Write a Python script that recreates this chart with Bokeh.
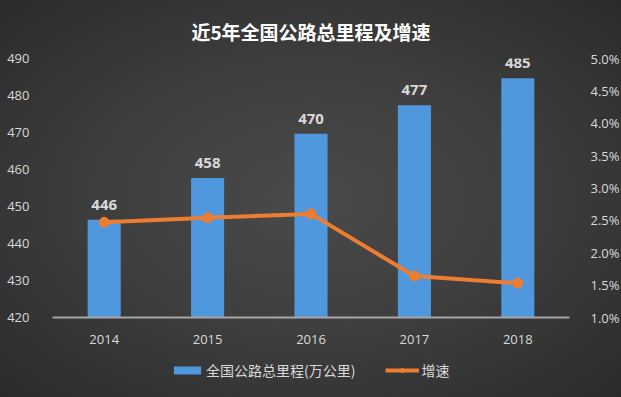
from bokeh.plotting import figure
from bokeh.layouts import column
from bokeh.models import (Range1d, LinearAxis, FixedTicker, NumeralTickFormatter,
                          Legend, LegendItem, ColumnDataSource, FactorRange)
from bokeh.core.properties import value
from bokeh.embed import file_html
from bokeh.resources import INLINE

years = ["2014", "2015", "2016", "2017", "2018"]
mileage = [446.39, 457.73, 469.63, 477.35, 484.65]
mileage_labels = ["446", "458", "470", "477", "485"]
growth = [0.0247, 0.0254, 0.0260, 0.0164, 0.0153]
left_ticks = [420, 430, 440, 450, 460, 470, 480, 490]
right_ticks = [0.010, 0.015, 0.020, 0.025, 0.030, 0.035, 0.040, 0.045, 0.050]
series_names = ["全国公路总里程(万公里)", "增速"]

src = ColumnDataSource(dict(x=years, m=mileage, lab=mileage_labels, g=growth))

FONT = "Noto Sans CJK SC"
LBL = "#d9d9d9"
BAR = "#4f98dd"
ORANGE = "#ed7d31"

p = figure(frame_width=517, frame_height=259, x_range=FactorRange(*years), y_range=Range1d(420, 490),
           output_backend="svg", toolbar_location=None,
           min_border_left=52, min_border_right=40, min_border_top=58, min_border_bottom=32)
p.border_fill_color = None
p.background_fill_color = None
p.outline_line_color = None
p.grid.visible = False

p.title.text = "近5年全国公路总里程及增速"
p.title.align = "center"
p.title.text_font = FONT
p.title.text_font_size = "19px"
p.title.text_font_style = "bold"
p.title.text_color = "#ffffff"
p.title.offset = 0
p.title.standoff = 28

p.extra_y_ranges = {"g": Range1d(0.01, 0.05)}

p.vbar(x="x", top="m", bottom=420, width=0.32, source=src, fill_color=BAR, line_color=None)
p.text(x="x", y="m", text="lab", source=src, y_offset=-10,
       text_align="center", text_baseline="bottom",
       text_font=value("Open Sans"), text_font_size="15px", text_font_style="bold",
       text_color=LBL)

p.line(x="x", y="g", source=src, y_range_name="g", line_color=ORANGE, line_width=4)
p.scatter(x="x", y="g", source=src, y_range_name="g", size=10,
          fill_color=ORANGE, line_color=ORANGE)

ya = p.yaxis[0]
ya.ticker = FixedTicker(ticks=left_ticks)
ya.axis_line_color = None
ya.major_tick_line_color = None
ya.minor_tick_line_color = None
ya.major_label_text_color = LBL
ya.major_label_text_font = "Open Sans"
ya.major_label_text_font_size = "13px"
ya.major_label_standoff = 17

ra = LinearAxis(y_range_name="g", ticker=FixedTicker(ticks=right_ticks),
                formatter=NumeralTickFormatter(format="0.0%"))
ra.axis_line_color = None
ra.major_tick_line_color = None
ra.minor_tick_line_color = None
ra.major_label_text_color = LBL
ra.major_label_text_font = "Open Sans"
ra.major_label_text_font_size = "13px"
ra.major_label_standoff = 15
p.add_layout(ra, "right")

xa = p.xaxis[0]
xa.axis_line_color = "#a6a6a6"
xa.axis_line_width = 2
xa.major_tick_line_color = None
xa.minor_tick_line_color = None
xa.major_label_text_color = LBL
xa.major_label_text_font = "Open Sans"
xa.major_label_text_font_size = "13px"
xa.major_label_standoff = 11

# legend strip (its renderers sit outside the visible range; only the legend shows)
p2 = figure(width=621, height=48, x_range=Range1d(0, 1), y_range=Range1d(0, 1),
            output_backend="svg", toolbar_location=None,
            x_axis_type=None, y_axis_type=None,
            min_border=0, min_border_left=0, min_border_right=0, min_border_top=0, min_border_bottom=0)
p2.border_fill_color = None
p2.background_fill_color = None
p2.outline_line_color = None
p2.grid.visible = False
hidden = ColumnDataSource(dict(x=[-10.0, -11.0], y=[-10.0, -11.0]))
lb = p2.vbar(x="x", top="y", width=0.3, source=hidden, fill_color=BAR, line_color=None)
ll = p2.line(x="x", y="y", source=hidden, line_color=ORANGE, line_width=4)
lm = p2.scatter(x="x", y="y", source=hidden, size=10, fill_color=ORANGE, line_color=ORANGE)
legend = Legend(items=[LegendItem(label=series_names[0], renderers=[lb], index=0),
                       LegendItem(label=series_names[1], renderers=[ll, lm], index=0)],
                orientation="horizontal", location=(118, 17),
                background_fill_alpha=0, border_line_color=None,
                label_text_color=LBL, label_text_font=FONT, label_text_font_size="14px",
                glyph_width=34, glyph_height=10, label_height=14, spacing=30, label_standoff=2,
                margin=0, padding=0)
p2.add_layout(legend, "center")

lay = column(p, p2, spacing=0,
             styles={"background": "radial-gradient(ellipse at 50% 50%, #4a4a4a 0%, #3f3f3f 45%, #2b2b2b 100%)"})

open("out.html", "w").write(file_html(lay, INLINE))
